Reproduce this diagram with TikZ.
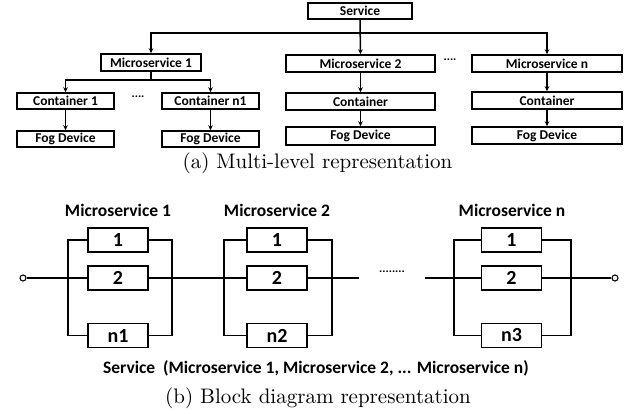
\documentclass[tikz,border=0pt]{standalone}
\usepackage{fontspec}
\newfontfamily\boxfont{Carlito}[BoldFont={* Bold}]
\newfontfamily\capfont{lmroman10-regular}[Extension=.otf]
\usetikzlibrary{arrows.meta}
\begin{document}
\begin{tikzpicture}[x=1pt,y=-1pt,
  line width=1.5pt,
  tbox/.style={draw,rectangle,inner sep=0pt,font=\boxfont\bfseries\fontsize{13.5}{14}\selectfont},
  bbox/.style={draw,rectangle,inner sep=0pt,minimum width=60pt,minimum height=24pt,font=\boxfont\bfseries\fontsize{20}{22}\selectfont},
  arr/.style={-{Stealth[length=5pt,width=4.5pt]}},
  ttl/.style={font=\boxfont\bfseries\fontsize{17.5}{19}\selectfont},
  captext/.style={font=\capfont\fontsize{21}{24}\selectfont},
  term/.style={draw,circle,fill=white,inner sep=0pt,minimum size=6pt,line width=1.1pt}]
\useasboundingbox (0,0) rectangle (639,413);

% ---------- (a) multi-level tree ----------
\node[tbox,minimum width=104pt,minimum height=16pt] (svc) at (360,11) {Service};
\node[tbox,minimum width=100pt,minimum height=17pt] (ms1) at (151,62.5) {Microservice 1};
\node[tbox,minimum width=149pt,minimum height=17pt] (ms2) at (360.5,63.5) {Microservice 2};
\node[tbox,minimum width=150pt,minimum height=17pt] (msn) at (547,63.5) {Microservice n};
\node[tbox,minimum width=97pt,minimum height=16pt] (c1) at (65.5,101) {Container 1};
\node[tbox,minimum width=97pt,minimum height=16pt] (cn1) at (210.5,101) {Container n1};
\node[tbox,minimum width=149pt,minimum height=17pt] (c2) at (360.5,101.5) {Container};
\node[tbox,minimum width=150pt,minimum height=17pt] (cn) at (547,100.5) {Container};
\node[tbox,minimum width=97pt,minimum height=16pt] (f1) at (65.5,139) {Fog Device};
\node[tbox,minimum width=97pt,minimum height=16pt] (fn1) at (210.5,139) {Fog Device};
\node[tbox,minimum width=149pt,minimum height=18pt] (f2) at (360.5,136) {Fog Device};
\node[tbox,minimum width=150pt,minimum height=17pt] (fn) at (547,135.5) {Fog Device};
\node[font=\boxfont\bfseries\fontsize{12}{12}\selectfont] (d1) at (138,97) {....};
\node[font=\boxfont\bfseries\fontsize{12}{12}\selectfont] (d2) at (450,60) {....};

\coordinate (js) at (svc.south |- 0,33);
\coordinate (jm) at (ms1.south |- 0,80);
\draw[arr] (svc.south) -- (ms2.north);
\draw[arr] (js) -| (ms1.north);
\draw[arr] (js) -| (msn.north);
\draw (ms1.south) -- (jm);
\draw[arr] (jm) -| (c1.north);
\draw[arr] (jm) -| (cn1.north);
\draw[arr] (c1) -- (f1);
\draw[arr] (cn1) -- (fn1);
\draw[arr] (ms2) -- (c2);
\draw[arr] (c2) -- (f2);
\draw[arr] (msn) -- (cn);
\draw[arr] (cn) -- (fn);

\node[captext] (capa) at (317.5,163) {(a) Multi-level representation};

% ---------- (b) block diagram ----------
\node[ttl] (t1) at (118,210) {Microservice 1};
\node[ttl] (t2) at (277,210) {Microservice 2};
\node[ttl] (t3) at (512,210) {Microservice n};

% parallel groups: left rail, box centre, right rail
\foreach \g/\xl/\xc/\xr/\last in {1/68/118/172/n1, 2/224/277/332/n2, 3/454/511.5/571/n3}{
  \node[bbox] (g\g a) at (\xc,240) {1};
  \node[bbox] (g\g b) at (\xc,278) {2};
  \node[bbox] (g\g c) at (\xc,335.5) {\last};
  \coordinate (l\g t) at (\xl,240);
  \coordinate (l\g c) at (\xl,335.5);
  \coordinate (r\g t) at (\xr,240);
  \coordinate (r\g c) at (\xr,335.5);
  \draw (g\g a.west) -- (l\g t) -- (l\g c) -- (g\g c.west);
  \draw (g\g a.east) -- (r\g t) -- (r\g c) -- (g\g c.east);
}

\node[term] (inp) at (23,278) {};
\node[term] (out) at (615,278) {};
\coordinate (gapl) at (359,278);
\coordinate (gapr) at (425,278);
\draw (inp) -- (g1b.west);
\draw (g1b.east) -- (g2b.west);
\draw (g2b.east) -- (gapl);
\draw (gapr) -- (g3b.west);
\draw (g3b.east) -- (out);
\node[font=\boxfont\bfseries\fontsize{12}{12}\selectfont] (d3) at (392,272) {........};

\node[ttl] (svcb) at (316,368) {Service\ \ (Microservice 1, Microservice 2, ... Microservice n)};
\node[captext] (capb) at (318,398) {(b) Block diagram representation};
\end{tikzpicture}
\end{document}
